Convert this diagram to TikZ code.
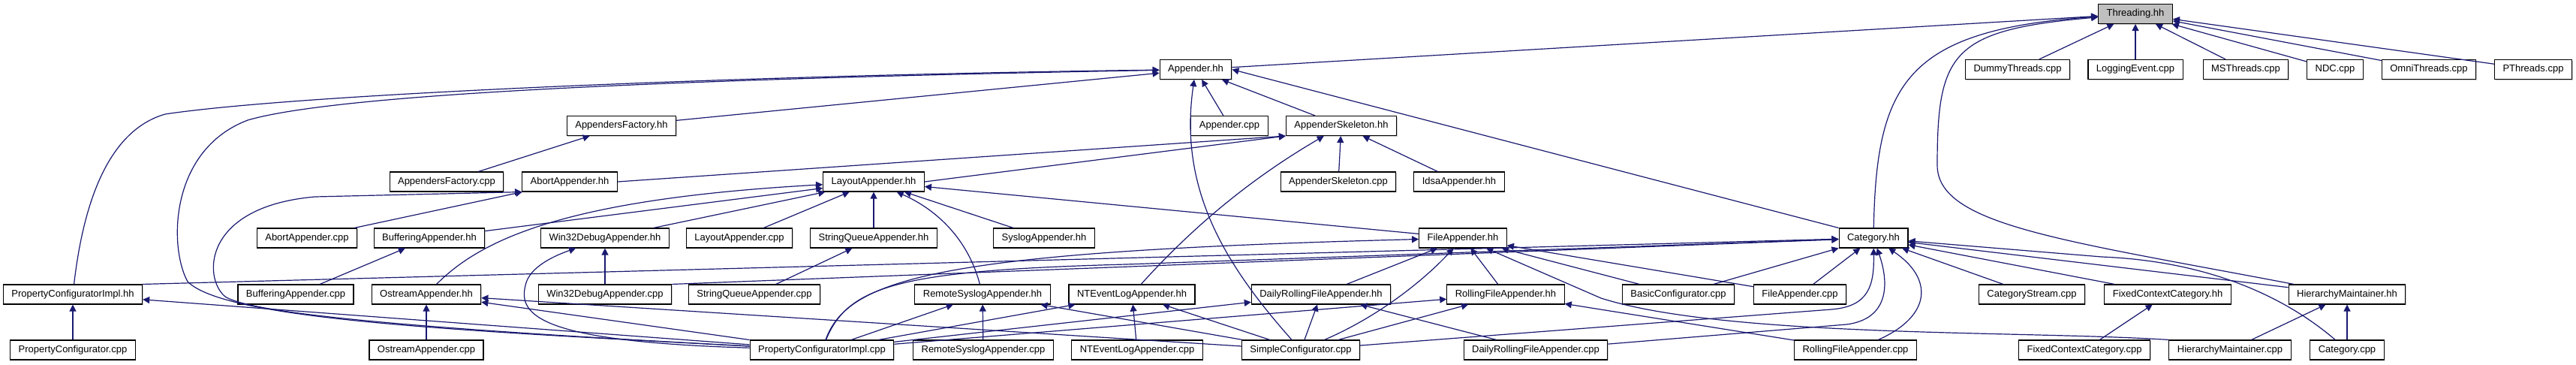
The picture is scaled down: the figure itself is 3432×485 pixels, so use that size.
\documentclass[tikz,border=0pt]{standalone}
\usepackage{fontspec}
\setmainfont{Liberation Sans}
\usepackage{tikz}
\usetikzlibrary{arrows.meta, shadows}
\definecolor{edgeblue}{RGB}{25, 25, 112}
\definecolor{rootgray}{RGB}{191, 191, 191}

\begin{document}
\begin{tikzpicture}[
    x=1pt, y=-1pt,
    file/.style={rectangle, draw, fill=white, line width=1.1pt, minimum height=26pt, inner xsep=11pt,
        font=\fontsize{13}{15}\selectfont,
        drop shadow={shadow xshift=1pt, shadow yshift=-1pt, opacity=0.35, fill=black!60}},
    root/.style={file, fill=rootgray},
    dep/.style={-{Triangle[length=9pt, width=9pt]}, edgeblue, line width=1.2pt}
]
    \useasboundingbox (0,0) rectangle (3432,485);

    % Root
    \node[root] (threading) at (2845,18.5) {Threading.hh};

    % Row 1
    \node[file] (appenderhh) at (1593,92.5) {Appender.hh};
    \node[file] (dummycpp) at (2688,92.5) {DummyThreads.cpp};
    \node[file] (loggingcpp) at (2845,92.5) {LoggingEvent.cpp};
    \node[file] (mscpp) at (2992,92.5) {MSThreads.cpp};
    \node[file] (ndccpp) at (3111,92.5) {NDC.cpp};
    \node[file] (omnicpp) at (3236,92.5) {OmniThreads.cpp};
    \node[file] (pthreadscpp) at (3375,92.5) {PThreads.cpp};

    % Row 2
    \node[file] (factoryhh) at (828,167.5) {AppendersFactory.hh};
    \node[file] (appendercpp) at (1638,167.5) {Appender.cpp};
    \node[file] (skeletonhh) at (1787,167.5) {AppenderSkeleton.hh};

    % Row 3
    \node[file] (factorycpp) at (595,242) {AppendersFactory.cpp};
    \node[file] (aborthh) at (759,242) {AbortAppender.hh};
    \node[file] (layouthh) at (1164,242) {LayoutAppender.hh};
    \node[file] (skeletoncpp) at (1783,242) {AppenderSkeleton.cpp};
    \node[file] (idsahh) at (1944,242) {IdsaAppender.hh};

    % Row 4
    \node[file] (abortcpp) at (409,317) {AbortAppender.cpp};
    \node[file] (bufferinghh) at (572,317) {BufferingAppender.hh};
    \node[file] (win32hh) at (806,317) {Win32DebugAppender.hh};
    \node[file] (layoutcpp) at (985,317) {LayoutAppender.cpp};
    \node[file] (stringqhh) at (1164,317) {StringQueueAppender.hh};
    \node[file] (sysloghh) at (1391,317) {SyslogAppender.hh};
    \node[file] (filehh) at (1949,317) {FileAppender.hh};
    \node[file] (categoryhh) at (2496,317) {Category.hh};

    % Row 5
    \node[file] (propimplhh) at (97,392) {PropertyConfiguratorImpl.hh};
    \node[file] (bufferingcpp) at (394,392) {BufferingAppender.cpp};
    \node[file] (ostreamhh) at (568,392) {OstreamAppender.hh};
    \node[file] (win32cpp) at (806,392) {Win32DebugAppender.cpp};
    \node[file] (stringqcpp) at (1005,392) {StringQueueAppender.cpp};
    \node[file] (remotehh) at (1309,392) {RemoteSyslogAppender.hh};
    \node[file] (nteventhh) at (1508,392) {NTEventLogAppender.hh};
    \node[file] (dailyhh) at (1760,392) {DailyRollingFileAppender.hh};
    \node[file] (rollinghh) at (2006,392) {RollingFileAppender.hh};
    \node[file] (basiccpp) at (2236,392) {BasicConfigurator.cpp};
    \node[file] (filecpp) at (2398,392) {FileAppender.cpp};
    \node[file] (streamcpp) at (2707,392) {CategoryStream.cpp};
    \node[file] (fixedhh) at (2888,392) {FixedContextCategory.hh};
    \node[file] (hierarchyhh) at (3127,392) {HierarchyMaintainer.hh};

    % Row 6
    \node[file] (propcpp) at (97,466) {PropertyConfigurator.cpp};
    \node[file] (ostreamcpp) at (568,466) {OstreamAppender.cpp};
    \node[file] (propimplcpp) at (1095,466) {PropertyConfiguratorImpl.cpp};
    \node[file] (remotecpp) at (1310,466) {RemoteSyslogAppender.cpp};
    \node[file] (ntevcpp) at (1515,466) {NTEventLogAppender.cpp};
    \node[file] (simplecpp) at (1733,466) {SimpleConfigurator.cpp};
    \node[file] (dailycpp) at (2046,466) {DailyRollingFileAppender.cpp};
    \node[file] (rollingcpp) at (2472,466) {RollingFileAppender.cpp};
    \node[file] (fixedcpp) at (2777,466) {FixedContextCategory.cpp};
    \node[file] (hierarchycpp) at (2971,466) {HierarchyMaintainer.cpp};
    \node[file] (categorycpp) at (3127,466) {Category.cpp};

    % Threading.hh
    \draw[dep] (appenderhh) -- (threading);
    \foreach \src in {dummycpp, loggingcpp, mscpp, ndccpp, omnicpp, pthreadscpp}
        \draw[dep] (\src) -- (threading);
    \draw[dep] (categoryhh) .. controls (2500,110) and (2540,40) .. (threading);
    \draw[dep] (hierarchyhh) .. controls (2750,320) and (2581,300) .. (2581,220)
        .. controls (2581,70) and (2600,40) .. (threading);

    % Appender.hh
    \draw[dep] (factoryhh) -- (appenderhh);
    \draw[dep] (appendercpp) -- (appenderhh);
    \draw[dep] (skeletonhh) -- (appenderhh);
    \draw[dep] (categoryhh.north west) -- (appenderhh.east);
    \draw[dep] (simplecpp) .. controls (1630,350) and (1570,250) .. (appenderhh);
    \draw[dep] (propimplhh) .. controls (110,280) and (140,175) .. (220,152)
        .. controls (400,125) and (1000,100) .. (appenderhh);
    \draw[dep] (propimplcpp) .. controls (600,440) and (300,425) .. (250,375)
        .. controls (225,330) and (225,200) .. (330,160)
        .. controls (450,125) and (900,105) .. (appenderhh);

    % AppendersFactory.hh, AppenderSkeleton.hh, AbortAppender.hh
    \draw[dep] (factorycpp) -- (factoryhh);
    \draw[dep] (aborthh.east) -- (skeletonhh.south west);
    \draw[dep] (layouthh.east) -- (skeletonhh.south west);
    \draw[dep] (skeletoncpp) -- (skeletonhh);
    \draw[dep] (idsahh) -- (skeletonhh);
    \draw[dep] (nteventhh) .. controls (1600,290) and (1680,230) .. (skeletonhh);
    \draw[dep] (abortcpp) -- (aborthh);
    \draw[dep] (propimplcpp) .. controls (600,440) and (340,420) .. (300,395)
        .. controls (270,370) and (270,275) .. (420,262) -- (aborthh.south west);

    % LayoutAppender.hh
    \foreach \src in {bufferinghh, win32hh, layoutcpp, stringqhh, sysloghh, filehh}
        \draw[dep] (\src) -- (layouthh);
    \draw[dep] (ostreamhh) .. controls (640,320) and (750,265) .. (layouthh);
    \draw[dep] (remotehh) .. controls (1290,320) and (1250,280) .. (layouthh);

    % Appender headers in row 4
    \draw[dep] (bufferingcpp) -- (bufferinghh);
    \draw[dep] (win32cpp) -- (win32hh);
    \draw[dep] (propimplcpp) .. controls (720,455) and (690,420) .. (700,380)
        .. controls (705,355) and (740,340) .. (win32hh);
    \draw[dep] (stringqcpp) -- (stringqhh);

    % PropertyConfiguratorImpl.hh, OstreamAppender.hh
    \draw[dep] (propcpp) -- (propimplhh);
    \draw[dep] (propimplcpp) -- (propimplhh);
    \draw[dep] (ostreamcpp) -- (ostreamhh);
    \draw[dep] (propimplcpp) -- (ostreamhh);
    \draw[dep] (simplecpp) -- (ostreamhh);

    % Row 5 appender headers
    \foreach \tgt/\own in {remotehh/remotecpp, nteventhh/ntevcpp, dailyhh/dailycpp, rollinghh/rollingcpp} {
        \draw[dep] (\own) -- (\tgt);
        \draw[dep] (propimplcpp) -- (\tgt);
        \draw[dep] (simplecpp) -- (\tgt);
    }

    % FileAppender.hh
    \foreach \src in {dailyhh, rollinghh, basiccpp, filecpp}
        \draw[dep] (\src) -- (filehh);
    \draw[dep] (propimplcpp) .. controls (1130,370) and (1250,335) .. (filehh);
    \draw[dep] (simplecpp) .. controls (1840,420) and (1900,370) .. (filehh);
    \draw[dep] (hierarchycpp.north west) .. controls (2700,440) and (2300,450) .. (2133,397) -- (filehh);

    % Category.hh
    \draw[dep] (propimplhh.north east) -- (categoryhh);
    \draw[dep] (win32cpp.north east) -- (categoryhh);
    \draw[dep] (propimplcpp) .. controls (1130,380) and (1200,360) .. (1500,352) -- (categoryhh);
    \foreach \src in {basiccpp, filecpp, streamcpp, fixedhh, hierarchyhh}
        \draw[dep] (\src) -- (categoryhh);
    \draw[dep] (simplecpp) -- (2440,412) .. controls (2490,408) and (2497,380) .. (categoryhh);
    \draw[dep] (dailycpp) -- (2460,432) .. controls (2515,425) and (2518,380) .. (categoryhh);
    \draw[dep] (rollingcpp) .. controls (2575,420) and (2575,370) .. (categoryhh);
    \draw[dep] (categorycpp) .. controls (3050,400) and (2950,348) .. (2800,342) -- (categoryhh);

    % FixedContextCategory.hh, HierarchyMaintainer.hh
    \draw[dep] (fixedcpp) -- (fixedhh);
    \draw[dep] (hierarchycpp) -- (hierarchyhh);
    \draw[dep] (categorycpp) -- (hierarchyhh);
\end{tikzpicture}
\end{document}
